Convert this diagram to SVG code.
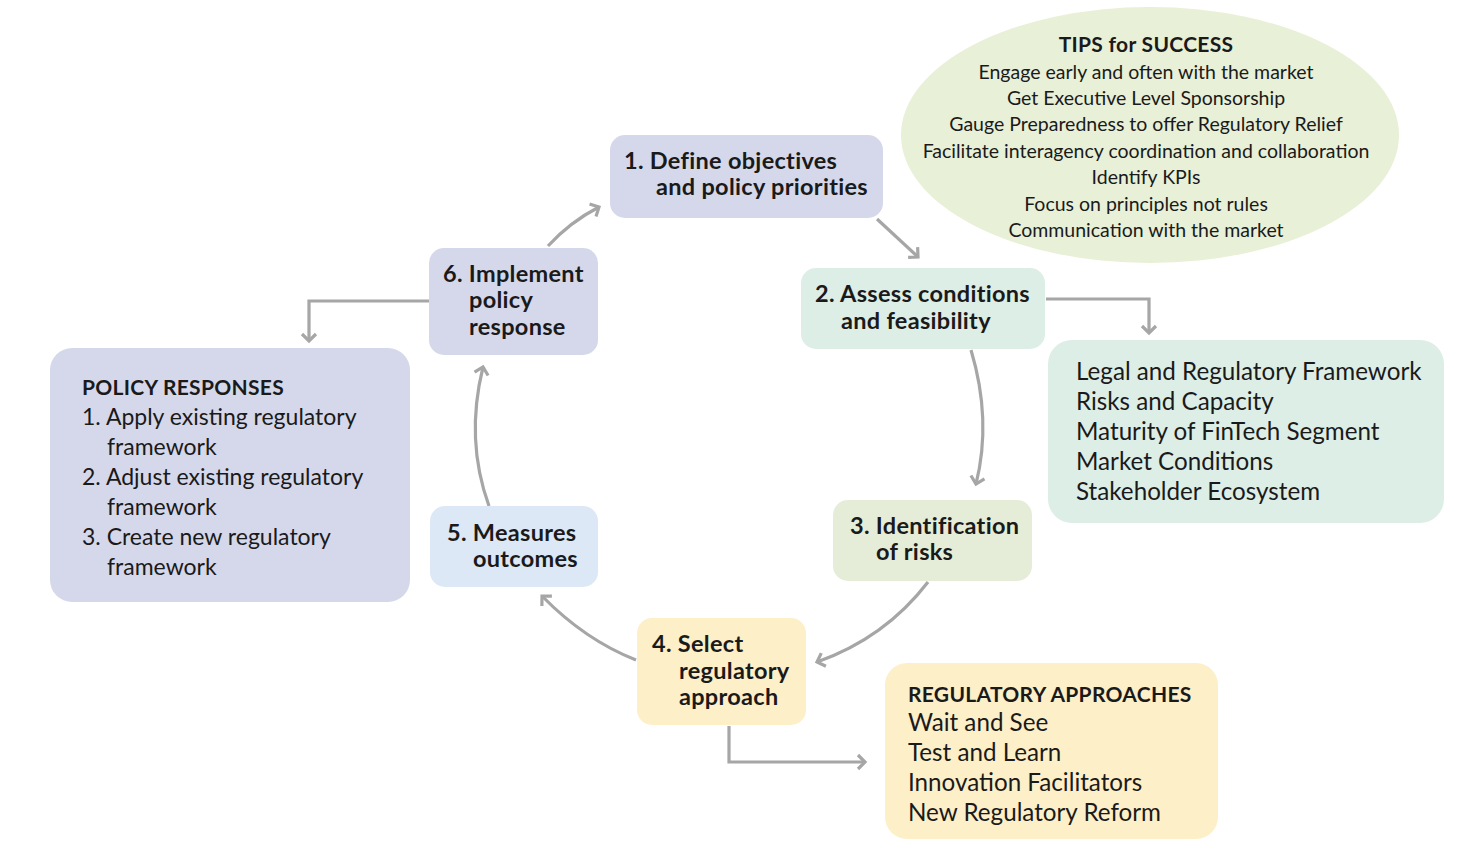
<svg xmlns="http://www.w3.org/2000/svg" width="1479" height="861" viewBox="0 0 1479 861">
<defs>
<marker id="arr" markerUnits="userSpaceOnUse" markerWidth="20" markerHeight="20" refX="10" refY="10" orient="auto">
<path d="M3,3 L10,10 L3,17" fill="none" stroke="#A6A6A6" stroke-width="3.2" stroke-linejoin="miter"/>
</marker>
</defs>
<style>
.t{font-family:Lato,"Open Sans","Liberation Sans",sans-serif;fill:#1a1a1a}
.n{font-size:23.5px;font-weight:700;letter-spacing:0.3px}
.h{font-size:21px;font-weight:700;letter-spacing:0.3px}
.b{font-size:24.2px}
.p{font-size:23px}
.tip{font-size:19.5px;text-anchor:middle}
.c{fill:none;stroke:#A6A6A6;stroke-width:3.2;marker-end:url(#arr)}
.lav{fill:#D5D8EA}.mint{fill:#DDEEE6}.grn{fill:#E5EDD8}.yel{fill:#FDEFC8}.blu{fill:#DCE8F5}
</style>
<rect width="1479" height="861" fill="#ffffff"/>

<g id="tips">
<ellipse cx="1150" cy="135" rx="249" ry="128" fill="#E8F0D7"/>
<text class="t h" x="1146" y="52" text-anchor="middle">TIPS for SUCCESS</text>
<text class="t tip" x="1146" y="79">Engage early and often with the market</text>
<text class="t tip" x="1146" y="105">Get Executive Level Sponsorship</text>
<text class="t tip" x="1146" y="131">Gauge Preparedness to offer Regulatory Relief</text>
<text class="t tip" x="1146" y="158">Facilitate interagency coordination and collaboration</text>
<text class="t tip" x="1146" y="184">Identify KPIs</text>
<text class="t tip" x="1146" y="211">Focus on principles not rules</text>
<text class="t tip" x="1146" y="237">Communication with the market</text>
</g>

<g id="connectors">
<path class="c" d="M877,219 L918,257"/>
<path class="c" d="M1046,299 L1149,299 L1149,333"/>
<path class="c" d="M971,350 Q992,420 976,484"/>
<path class="c" d="M928,582 Q885,638 817,662"/>
<path class="c" d="M636,660 Q585,640 542,596"/>
<path class="c" d="M489,506 Q465,440 483,367"/>
<path class="c" d="M548,246 Q570,222 599,207"/>
<path class="c" d="M429,301 L309,301 L309,341"/>
<path class="c" d="M729,726 L729,762 L865,762"/>
</g>

<g id="n1">
<rect class="lav" x="610" y="135" width="273" height="83" rx="15"/>
<text class="t n" x="624" y="169">1. Define objectives</text>
<text class="t n" x="656" y="195">and policy priorities</text>
</g>
<g id="n2">
<rect class="mint" x="801" y="268" width="244" height="81" rx="15"/>
<text class="t n" x="815" y="302">2. Assess conditions</text>
<text class="t n" x="841" y="329">and feasibility</text>
</g>
<g id="n3">
<rect class="grn" x="833" y="500" width="199" height="81" rx="15"/>
<text class="t n" x="850" y="534">3. Identification</text>
<text class="t n" x="876" y="560">of risks</text>
</g>
<g id="n4">
<rect class="yel" x="637" y="618" width="169" height="107" rx="15"/>
<text class="t n" x="652" y="652">4. Select</text>
<text class="t n" x="679" y="679">regulatory</text>
<text class="t n" x="679" y="705">approach</text>
</g>
<g id="n5">
<rect class="blu" x="430" y="506" width="168" height="81" rx="15"/>
<text class="t n" x="447" y="541">5. Measures</text>
<text class="t n" x="473" y="567">outcomes</text>
</g>
<g id="n6">
<rect class="lav" x="429" y="248" width="169" height="107" rx="15"/>
<text class="t n" x="443" y="282">6. Implement</text>
<text class="t n" x="469" y="308">policy</text>
<text class="t n" x="469" y="335">response</text>
</g>

<g id="legal">
<rect class="mint" x="1048" y="340" width="396" height="183" rx="24"/>
<text class="t b" x="1076" y="380">Legal and Regulatory Framework</text>
<text class="t b" x="1076" y="410">Risks and Capacity</text>
<text class="t b" x="1076" y="440">Maturity of FinTech Segment</text>
<text class="t b" x="1076" y="470">Market Conditions</text>
<text class="t b" x="1076" y="500">Stakeholder Ecosystem</text>
</g>

<g id="policy">
<rect class="lav" x="50" y="348" width="360" height="254" rx="22"/>
<text class="t h" x="82" y="395">POLICY RESPONSES</text>
<text class="t p" x="82" y="425">1. Apply existing regulatory</text>
<text class="t p" x="107" y="455">framework</text>
<text class="t p" x="82" y="485">2. Adjust existing regulatory</text>
<text class="t p" x="107" y="515">framework</text>
<text class="t p" x="82" y="545">3. Create new regulatory</text>
<text class="t p" x="107" y="575">framework</text>
</g>

<g id="approaches">
<rect class="yel" x="885" y="663" width="333" height="176" rx="22"/>
<text class="t h" x="908" y="702">REGULATORY APPROACHES</text>
<text class="t b" x="908" y="731">Wait and See</text>
<text class="t b" x="908" y="761">Test and Learn</text>
<text class="t b" x="908" y="791">Innovation Facilitators</text>
<text class="t b" x="908" y="821">New Regulatory Reform</text>
</g>
</svg>
